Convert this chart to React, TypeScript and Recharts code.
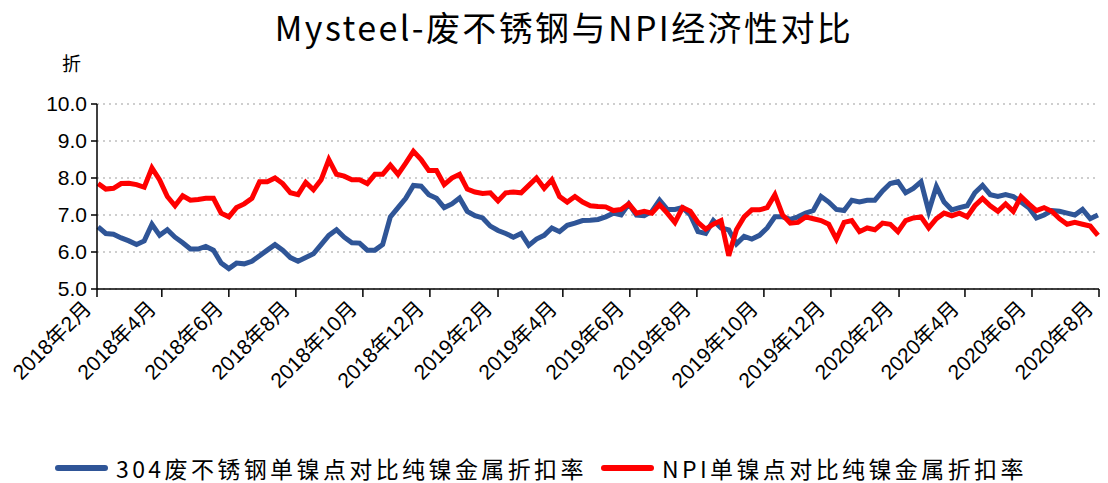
import { CartesianGrid, Line, LineChart, XAxis, YAxis } from "recharts";

const DAY = 86400000;
// weekly observations, first one on 2018-02-02
const firstWeek = Date.UTC(2018, 1, 2);

const scrapRate = [
  6.68, 6.5, 6.48, 6.38, 6.3, 6.2, 6.3, 6.75, 6.45, 6.6, 6.4, 6.25, 6.08, 6.08,
  6.15, 6.05, 5.7, 5.55, 5.7, 5.68, 5.75, 5.9, 6.05, 6.2, 6.05, 5.85, 5.75,
  5.85, 5.95, 6.2, 6.45, 6.6, 6.4, 6.25, 6.24, 6.05, 6.05, 6.2, 6.95, 7.2, 7.45,
  7.8, 7.78, 7.55, 7.45, 7.2, 7.3, 7.46, 7.1, 6.98, 6.92, 6.7, 6.58,
  6.5, 6.4, 6.5, 6.18, 6.35, 6.45, 6.65, 6.55, 6.72, 6.78, 6.85, 6.86, 6.88,
  6.95, 7.05, 7.0, 7.3, 7.0, 6.98, 7.1, 7.4, 7.15, 7.15, 7.2, 7.0, 6.55,
  6.5, 6.85, 6.65, 6.6, 6.22, 6.42, 6.35, 6.45, 6.65, 6.95, 6.95, 6.88, 6.95,
  7.05, 7.12, 7.5, 7.35, 7.15, 7.12, 7.4, 7.35, 7.4, 7.4, 7.65, 7.85, 7.9,
  7.6, 7.72, 7.9, 7.1, 7.77, 7.35, 7.14, 7.2, 7.25, 7.6, 7.8, 7.55, 7.5, 7.55,
  7.5, 7.35, 7.2, 6.92, 7.0, 7.12, 7.1, 7.05, 7.0, 7.15, 6.9, 7.0,
];

const npiRate = [
  7.85, 7.7, 7.72, 7.85, 7.86, 7.82, 7.75, 8.27, 7.95, 7.5, 7.25, 7.52, 7.4,
  7.42, 7.45, 7.45, 7.05, 6.95, 7.2, 7.3, 7.45, 7.9, 7.9, 8.0, 7.85, 7.6, 7.55,
  7.88, 7.68, 7.95, 8.5, 8.1, 8.05, 7.95, 7.95, 7.85, 8.1, 8.1, 8.35, 8.1, 8.4,
  8.72, 8.5, 8.2, 8.2, 7.82, 8.0, 8.1, 7.7, 7.62, 7.58, 7.6, 7.38,
  7.6, 7.62, 7.6, 7.8, 8.0, 7.72, 7.95, 7.5, 7.35, 7.5, 7.35, 7.25, 7.23, 7.22,
  7.12, 7.15, 7.3, 7.05, 7.1, 7.05, 7.28, 7.05, 6.8, 7.2, 7.1, 6.8,
  6.62, 6.75, 6.85, 5.9, 6.6, 6.95, 7.14, 7.14, 7.2, 7.55, 7.0, 6.78, 6.8,
  6.95, 6.9, 6.85, 6.75, 6.35, 6.8, 6.85, 6.55, 6.65, 6.6, 6.78, 6.75, 6.55,
  6.85, 6.92, 6.95, 6.65, 6.9, 7.05, 6.98, 7.05, 6.95, 7.25, 7.45, 7.25, 7.1,
  7.3, 7.1, 7.5, 7.3, 7.12, 7.2, 7.1, 6.9, 6.75, 6.8, 6.75, 6.7, 6.45,
];

const tickMonths = [
  "2018-02", "2018-04", "2018-06", "2018-08", "2018-10", "2018-12",
  "2019-02", "2019-04", "2019-06", "2019-08", "2019-10", "2019-12",
  "2020-02", "2020-04", "2020-06", "2020-08",
];
const yTicks = [5, 6, 7, 8, 9, 10];

const monthTime = (s: string) => {
  const [y, m] = s.split("-").map(Number);
  return Date.UTC(y, m - 1, 1);
};
const xTicks = tickMonths.map(monthTime);

const data = scrapRate.map((v, i) => ({
  t: firstWeek + i * 7 * DAY,
  scrap: v,
  npi: npiRate[i],
}));

const fmtMonth = (t: number) => {
  const d = new Date(t);
  return `${d.getUTCFullYear()}年${d.getUTCMonth() + 1}月`;
};

const BLUE = "#2F5597";
const RED = "#FF0000";
const FONT = "'Liberation Sans', 'Noto Sans CJK SC', sans-serif";
const CJK = "'Noto Sans CJK SC', sans-serif";

// rotated month label, its end sits just under the tick mark
function MonthTick(props: any) {
  const { x, y, payload } = props;
  const ex = x - 4.5;
  const ey = y + 11;
  return (
    <text
      x={ex}
      y={ey}
      transform={`rotate(-45 ${ex} ${ey})`}
      textAnchor="end"
      fill="#000"
      fontSize={21}
      fontFamily={FONT}
    >
      {fmtMonth(payload.value)}
    </text>
  );
}

export default function App() {
  return (
    <div
      style={{
        position: "absolute",
        left: 0,
        top: 0,
        width: 1108,
        height: 483,
        background: "#fff",
        fontFamily: CJK,
      }}
    >
      <div
        style={{
          position: "absolute",
          top: 5,
          left: 10,
          width: 1108,
          textAlign: "center",
          fontSize: 34,
          lineHeight: "44px",
          color: "#000",
          letterSpacing: 2.4,
        }}
      >
        Mysteel-废不锈钢与NPI经济性对比
      </div>
      <div
        style={{
          position: "absolute",
          top: 50,
          left: 62,
          fontSize: 19,
          lineHeight: "26px",
        }}
      >
        折
      </div>

      <LineChart
        width={1108}
        height={483}
        data={data}
        margin={{ top: 104, right: 9, left: 37, bottom: 74 }}
      >
        <CartesianGrid
          vertical={false}
          stroke="#BFBFBF"
          strokeDasharray="2 4"
          strokeWidth={1.5}
        />
        <XAxis
          dataKey="t"
          type="number"
          scale="time"
          domain={[xTicks[0], xTicks[xTicks.length - 1]]}
          ticks={xTicks}
          interval={0}
          height={120}
          tick={<MonthTick />}
          tickSize={8}
          tickMargin={2}
          axisLine={{ stroke: "#000", strokeWidth: 1.5 }}
          tickLine={{ stroke: "#000", strokeWidth: 1.5 }}
        />
        <YAxis
          domain={[5, 10]}
          ticks={yTicks}
          tickFormatter={(v: number) => v.toFixed(1)}
          width={60}
          tickSize={6}
          tickMargin={4}
          axisLine={{ stroke: "#000", strokeWidth: 1.5 }}
          tickLine={{ stroke: "#000", strokeWidth: 1.5 }}
          tick={{ fill: "#000", fontSize: 21, fontFamily: FONT }}
        />
        <Line
          dataKey="scrap"
          type="linear"
          stroke={BLUE}
          strokeWidth={5}
          dot={false}
          isAnimationActive={false}
        />
        <Line
          dataKey="npi"
          type="linear"
          stroke={RED}
          strokeWidth={5}
          dot={false}
          isAnimationActive={false}
        />
      </LineChart>

      <div
        style={{
          position: "absolute",
          top: 454,
          left: 55,
          display: "flex",
          alignItems: "center",
          fontSize: 23,
          lineHeight: "28px",
          letterSpacing: 3.4,
          color: "#000",
        }}
      >
        <span
          style={{ width: 53, height: 6, background: BLUE, marginRight: 8, borderRadius: 3 }}
        />
        <span>304废不锈钢单镍点对比纯镍金属折扣率</span>
        <span
          style={{
            width: 53,
            height: 6,
            background: RED,
            marginLeft: 14,
            marginRight: 8,
            borderRadius: 3,
          }}
        />
        <span>NPI单镍点对比纯镍金属折扣率</span>
      </div>
    </div>
  );
}
